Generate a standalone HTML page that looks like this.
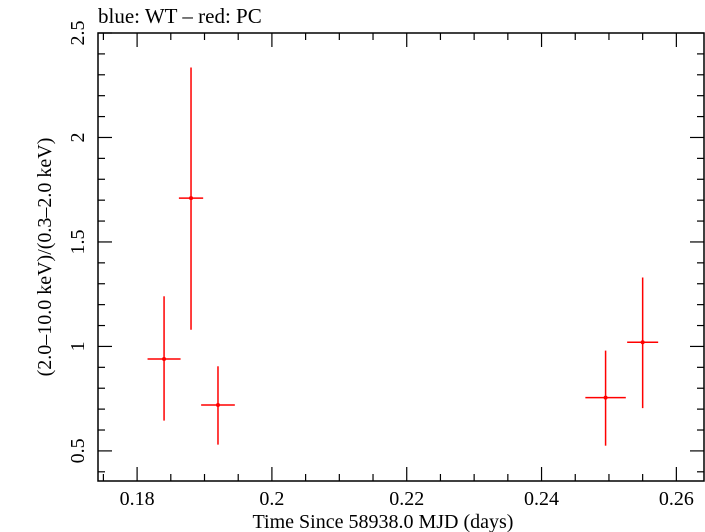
<!DOCTYPE html>
<html><head><meta charset="utf-8"><style>body{margin:0;background:#fff}svg{display:block}text{font-family:"Liberation Serif",serif;fill:#000}</style></head>
<body>
<svg id="chart" width="705" height="532" xmlns="http://www.w3.org/2000/svg">
<text x="98" y="23" font-size="21">blue: WT – red: PC</text>
<rect x="98" y="33" width="606" height="448" fill="none" stroke="#000" stroke-width="1.5"/>
<g id="axes"></g><g id="marks"></g>
<text x="383" y="528" font-size="20" text-anchor="middle">Time Since 58938.0 MJD (days)</text>
<text transform="translate(51,257) rotate(-90)" font-size="20" text-anchor="middle">(2.0–10.0 keV)/(0.3–2.0 keV)</text>
</svg>
<script>
const times=[0.184,0.188,0.192,0.2495,0.255];
const timeErr=[0.00245,0.0018,0.0025,0.003,0.0023];
const ratios=[0.94,1.71,0.72,0.755,1.02];
const ratioLow=[0.645,1.08,0.53,0.525,0.705];
const ratioHigh=[1.24,2.335,0.905,0.98,1.33];
const xTicks=[0.18,0.2,0.22,0.24,0.26];
const xTickLabels=["0.18","0.2","0.22","0.24","0.26"];
const yTicks=[0.5,1,1.5,2,2.5];
const yTickLabels=["0.5","1","1.5","2","2.5"];
const X0=98,X1=704,Y0=481,Y1=33,xmin=0.1742,xmax=0.2641,ymin=0.356,ymax=2.5;
const sx=v=>X0+(v-xmin)/(xmax-xmin)*(X1-X0);
const sy=v=>Y0-(v-ymin)/(ymax-ymin)*(Y0-Y1);
const NS="http://www.w3.org/2000/svg";
const axes=document.getElementById('axes'),marks=document.getElementById('marks');
function ln(p,x1,y1,x2,y2,c,w){const l=document.createElementNS(NS,'line');l.setAttribute('x1',x1);l.setAttribute('y1',y1);l.setAttribute('x2',x2);l.setAttribute('y2',y2);l.setAttribute('stroke',c);l.setAttribute('stroke-width',w);p.appendChild(l);return l;}
for(let v=0.175;v<=xmax;v+=0.005){const x=sx(v);const major=Math.abs(v*100-Math.round(v*100))<1e-6&&Math.round(v*100)%2===0;const L=major?14:7;
const a=ln(axes,x,Y0,x,Y0-L,'#000',1.2);
const b=ln(axes,x,Y1,x,Y1+L,'#000',1.2);}
for(let v=0.4;v<=ymax+1e-9;v+=0.1){const y=sy(v);const major=Math.abs(v*2-Math.round(v*2))<1e-6;const L=major?14:7;
const a=ln(axes,X0,y,X0+L,y,'#000',1.2);
const b=ln(axes,X1,y,X1-L,y,'#000',1.2);}
xTicks.forEach((v,i)=>{const t=document.createElementNS(NS,'text');t.setAttribute('x',sx(v));t.setAttribute('y',505);t.setAttribute('font-size','20');t.setAttribute('text-anchor','middle');t.textContent=xTickLabels[i];


axes.appendChild(t);});
yTicks.forEach((v,i)=>{const t=document.createElementNS(NS,'text');t.setAttribute('transform',`translate(84,${sy(v)}) rotate(-90)`);t.setAttribute('font-size','20');t.setAttribute('text-anchor','middle');t.textContent=yTickLabels[i];


axes.appendChild(t);});
times.forEach((t,i)=>{const g=document.createElementNS(NS,'g');


ln(g,sx(t-timeErr[i]),sy(ratios[i]),sx(t+timeErr[i]),sy(ratios[i]),'#f00',1.5);
ln(g,sx(t),sy(ratioLow[i]),sx(t),sy(ratioHigh[i]),'#f00',1.5);
const c=document.createElementNS(NS,'circle');c.setAttribute('cx',sx(t));c.setAttribute('cy',sy(ratios[i]));c.setAttribute('r',2);c.setAttribute('fill','#f00');g.appendChild(c);
marks.appendChild(g);});
</script>
</body></html>
